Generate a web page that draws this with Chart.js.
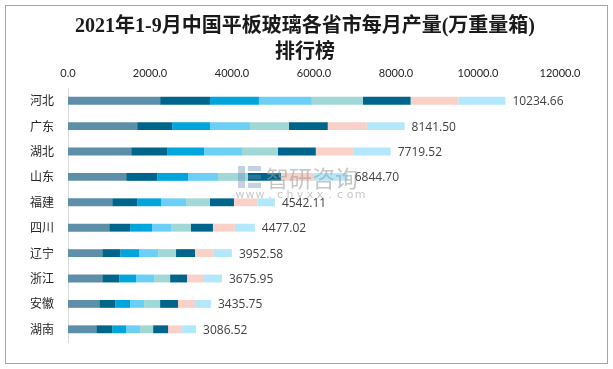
<!DOCTYPE html>
<html>
<head>
<meta charset="utf-8">
<script src="https://cdn.jsdelivr.net/npm/chart.js@4/dist/chart.umd.min.js"></script>
<style>
  html, body { margin: 0; padding: 0; background: #fff; }
  #wrap { width: 613px; height: 369px; }
</style>
</head>
<body>
<div id="wrap"><canvas id="c" width="613" height="369"></canvas></div>
<script>
// provinces, top to bottom
const provinces = ['河北', '广东', '湖北', '山东', '福建', '四川', '辽宁', '浙江', '安徽', '湖南'];
const months = ['1-2月', '3月', '4月', '5月', '6月', '7月', '8月', '9月'];
// monthly output per province
const m12 = [2247, 1687, 1541, 1419, 1078, 1005, 835, 835, 762, 689];
const m3  = [1217,  852,  876,  755,  609,  511, 438, 414, 389, 389];
const m4  = [1193,  925,  901,  755,  584,  535, 462, 414, 365, 341];
const m5  = [1290,  974,  925,  730,  609,  462, 462, 438, 341, 341];
const m6  = [1241,  949,  876,  730,  584,  487, 438, 389, 389, 316];
const m7  = [1168,  949,  925,  803,  584,  535, 462, 414, 438, 365];
const m8  = [1168,  949,  925,  803,  577,  535, 462, 414, 414, 341];
const m9  = [1144,  925,  901,  828,  421,  487, 438, 438, 389, 341];
const totals = ['10234.66', '8141.50', '7719.52', '6844.70', '4542.11', '4477.02', '3952.58', '3675.95', '3435.75', '3086.52'];
const xTicks = [0, 2000, 4000, 6000, 8000, 10000, 12000];
const titleLines = ['2021年1-9月中国平板玻璃各省市每月产量(万重量箱)', '排行榜'];

const colors = ['#5e8fa8', '#00658a', '#00a5dc', '#6ccff6', '#a1d8d6', '#00658a', '#f9d1c8', '#b3e8fc'];
const series = [m12, m3, m4, m5, m6, m7, m8, m9];

// white background, outer frame and the two title lines (centred on the whole picture)
const frame = {
  id: 'frame',
  beforeDraw(chart) {
    const ctx = chart.ctx;
    ctx.save();
    ctx.fillStyle = '#fff';
    ctx.fillRect(0, 0, chart.width, chart.height);
    ctx.strokeStyle = '#a6a6a6';
    ctx.lineWidth = 1;
    ctx.strokeRect(5.5, 5.5, 602, 358);
    ctx.fillStyle = '#1a1a1a';
    ctx.font = 'bold 20px "Liberation Serif", "Noto Sans CJK SC", serif';
    ctx.textAlign = 'center';
    ctx.textBaseline = 'middle';
    ctx.fillText(titleLines[0], 305, 27);
    ctx.fillText(titleLines[1], 305, 53);
    ctx.restore();
  }
};

const totalLabels = {
  id: 'totalLabels',
  afterDatasetsDraw(chart) {
    const ctx = chart.ctx;
    ctx.save();
    // watermark over the bars
    ctx.fillStyle = 'rgba(110,140,185,0.4)';
    ctx.fillRect(238, 166, 7, 22);
    ctx.fillRect(248, 166, 13, 5);
    ctx.fillRect(248, 175, 13, 4);
    ctx.fillRect(248, 183, 13, 5);
    ctx.fillStyle = 'rgba(160,160,160,0.6)';
    ctx.textBaseline = 'middle';
    ctx.font = '23px "Noto Sans CJK SC", sans-serif';
    ctx.fillText('智研咨询', 266, 178);
    ctx.font = '11px "DejaVu Sans", sans-serif';
    ctx.textAlign = 'center';
    'www.chyxx.com'.split('').forEach((ch, k) => ctx.fillText(ch, 240 + k * 10, 195));
    ctx.textAlign = 'left';

    const last = chart.getDatasetMeta(chart.data.datasets.length - 1);
    ctx.font = '12px "Open Sans", sans-serif';
    ctx.fillStyle = '#404040';
    last.data.forEach((bar, i) => {
      ctx.fillText(totals[i], bar.x + 7, bar.y + 1);
    });
    ctx.restore();
  }
};

new Chart(document.getElementById('c'), {
  type: 'bar',
  data: {
    labels: provinces,
    datasets: series.map((d, i) => ({
      label: months[i],
      data: d,
      backgroundColor: colors[i],
      borderWidth: 0,
      barPercentage: 0.31,
      categoryPercentage: 1
    }))
  },
  options: {
    indexAxis: 'y',
    responsive: false,
    animation: false,
    layout: { padding: { left: 8, right: 53, bottom: 27, top: 66 } },
    scales: {
      x: {
        position: 'top',
        stacked: true,
        min: 0,
        max: 12000,
        afterBuildTicks(scale) {
          scale.ticks = xTicks.map(v => ({ value: v }));
        },
        afterFit(scale) { scale.height = 22; },
        grid: { display: false, drawTicks: false },
        border: { display: false },
        ticks: {
          padding: 8,
          color: '#262626',
          font: { family: 'Lato, sans-serif', size: 11 },
          callback: v => Number(v).toFixed(1)
        }
      },
      y: {
        stacked: true,
        grid: { display: false, drawTicks: false },
        border: { display: true, color: '#d9d9d9' },
        afterFit(scale) { scale.width = 60; },
        ticks: {
          padding: 14,
          color: '#262626',
          font: { family: '"Noto Sans CJK SC", sans-serif', size: 12 }
        }
      }
    },
    plugins: {
      legend: { display: false },
      tooltip: { enabled: false },
      title: { display: false }
    }
  },
  plugins: [frame, totalLabels]
});
</script>
</body>
</html>
